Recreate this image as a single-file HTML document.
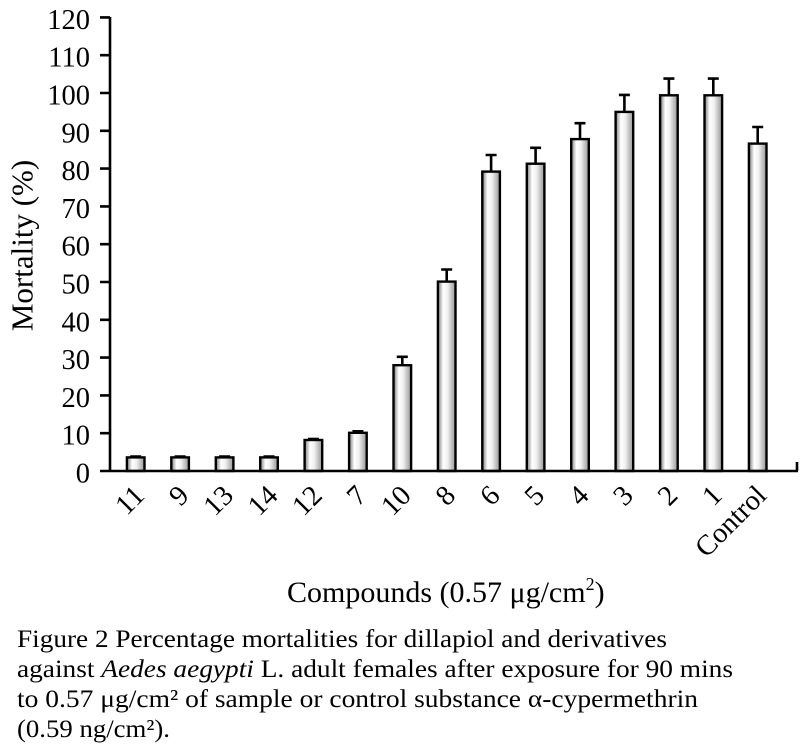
<!DOCTYPE html>
<html>
<head>
<meta charset="utf-8">
<style>
html,body{margin:0;padding:0;background:#fff;}
svg{display:block;}
text{font-family:"Liberation Serif","Times New Roman",serif;fill:#000;}
</style>
</head>
<body>
<svg width="800" height="756" viewBox="0 0 800 756" xmlns="http://www.w3.org/2000/svg">
<defs>
<linearGradient id="g" x1="0" y1="0" x2="1" y2="0">
<stop offset="0" stop-color="#7a7a7a"/>
<stop offset="0.3" stop-color="#ffffff"/>
<stop offset="0.55" stop-color="#f0f0f0"/>
<stop offset="1" stop-color="#959595"/>
</linearGradient>
</defs>

<!-- bars -->
<g stroke="#000" stroke-width="2.4" fill="url(#g)">
<rect x="126.9" y="457.4" width="17.6" height="13.6"/>
<rect x="171.3" y="457.4" width="17.6" height="13.6"/>
<rect x="215.8" y="457.4" width="17.6" height="13.6"/>
<rect x="260.2" y="457.4" width="17.6" height="13.6"/>
<rect x="304.6" y="440.0" width="17.6" height="31.0"/>
<rect x="349.1" y="432.8" width="17.6" height="38.2"/>
<rect x="393.5" y="365.2" width="17.6" height="105.8"/>
<rect x="437.9" y="281.6" width="17.6" height="189.4"/>
<rect x="482.3" y="171.6" width="17.6" height="299.4"/>
<rect x="526.8" y="163.7" width="17.6" height="307.3"/>
<rect x="571.2" y="139.1" width="17.6" height="331.9"/>
<rect x="615.6" y="111.9" width="17.6" height="359.1"/>
<rect x="660.1" y="95.3" width="17.6" height="375.7"/>
<rect x="704.5" y="95.3" width="17.6" height="375.7"/>
<rect x="748.9" y="143.6" width="17.6" height="327.4"/>
</g>

<!-- error bars -->
<g stroke="#000" stroke-width="2.6" fill="none">
<path d="M130.2 456.6H141.2 M174.6 456.6H185.6 M219.1 456.6H230.1 M263.5 456.6H274.5"/>
<path d="M307.9 439.0H318.9"/>
<path d="M358.9 432.8V431.3 M352.4 431.3H363.4"/>
<path d="M402.3 365.2V356.8 M396.8 356.8H407.8"/>
<path d="M446.7 281.6V269.5 M441.2 269.5H452.2"/>
<path d="M491.1 171.6V155.0 M485.6 155.0H496.6"/>
<path d="M535.6 163.7V147.8 M530.1 147.8H541.1"/>
<path d="M580.0 139.1V123.2 M574.5 123.2H585.5"/>
<path d="M624.4 111.9V94.9 M618.9 94.9H629.9"/>
<path d="M668.9 95.3V78.6 M663.4 78.6H674.4"/>
<path d="M713.3 95.3V78.6 M707.8 78.6H718.8"/>
<path d="M757.7 143.6V127.0 M752.2 127.0H763.2"/>
</g>

<!-- axes -->
<g stroke="#000" stroke-width="2.6" fill="none">
<path d="M110 17V472"/>
<path d="M100 471H798"/>
<path d="M797 462V471"/>
<path d="M100 17.4H110 M100 55.2H110 M100 93H110 M100 130.8H110 M100 168.6H110 M100 206.4H110 M100 244.2H110 M100 282H110 M100 319.8H110 M100 357.6H110 M100 395.4H110 M100 433.2H110"/>
</g>

<!-- y tick labels -->
<g font-size="28.5" text-anchor="end">
<text x="90" y="482.5">0</text>
<text x="90" y="444.7">10</text>
<text x="90" y="406.9">20</text>
<text x="90" y="369.1">30</text>
<text x="90" y="331.3">40</text>
<text x="90" y="293.5">50</text>
<text x="90" y="255.7">60</text>
<text x="90" y="217.9">70</text>
<text x="90" y="180.1">80</text>
<text x="90" y="142.3">90</text>
<text x="90" y="104.5">100</text>
<text x="90" y="66.7">110</text>
<text x="90" y="28.9">120</text>
</g>

<!-- y axis title -->
<text font-size="31" text-anchor="middle" transform="translate(32.5,245.5) rotate(-90)">Mortality (%)</text>

<!-- x tick labels -->
<g font-size="28.5" text-anchor="end">
<text transform="translate(146,497) rotate(-45)">11</text>
<text transform="translate(190.4,497) rotate(-45)">9</text>
<text transform="translate(234.9,497) rotate(-45)">13</text>
<text transform="translate(279.3,497) rotate(-45)">14</text>
<text transform="translate(323.7,497) rotate(-45)">12</text>
<text transform="translate(368.2,497) rotate(-45)">7</text>
<text transform="translate(412.6,497) rotate(-45)">10</text>
<text transform="translate(457,497) rotate(-45)">8</text>
<text transform="translate(501.4,497) rotate(-45)">6</text>
<text transform="translate(545.9,497) rotate(-45)">5</text>
<text transform="translate(590.3,497) rotate(-45)">4</text>
<text transform="translate(634.7,497) rotate(-45)">3</text>
<text transform="translate(679.2,497) rotate(-45)">2</text>
<text transform="translate(723.6,497) rotate(-45)">1</text>
<text transform="translate(768,497) rotate(-45)">Control</text>
</g>

<!-- x axis title -->
<text x="287" y="602" font-size="30">Compounds (0.57 μg/cm<tspan font-size="18" dy="-12">2</tspan><tspan dy="12">)</tspan></text>

<!-- caption -->
<g font-size="25">
<text x="17" y="647" textLength="650" lengthAdjust="spacingAndGlyphs">Figure 2 Percentage mortalities for dillapiol and derivatives</text>
<text x="17" y="677" textLength="716" lengthAdjust="spacingAndGlyphs">against <tspan font-style="italic">Aedes aegypti</tspan> L. adult females after exposure for 90 mins</text>
<text x="17" y="707" textLength="681" lengthAdjust="spacingAndGlyphs">to 0.57  μg/cm² of sample or control substance α-cypermethrin</text>
<text x="17" y="737" textLength="153" lengthAdjust="spacingAndGlyphs">(0.59 ng/cm²).</text>
</g>
</svg>
</body>
</html>
